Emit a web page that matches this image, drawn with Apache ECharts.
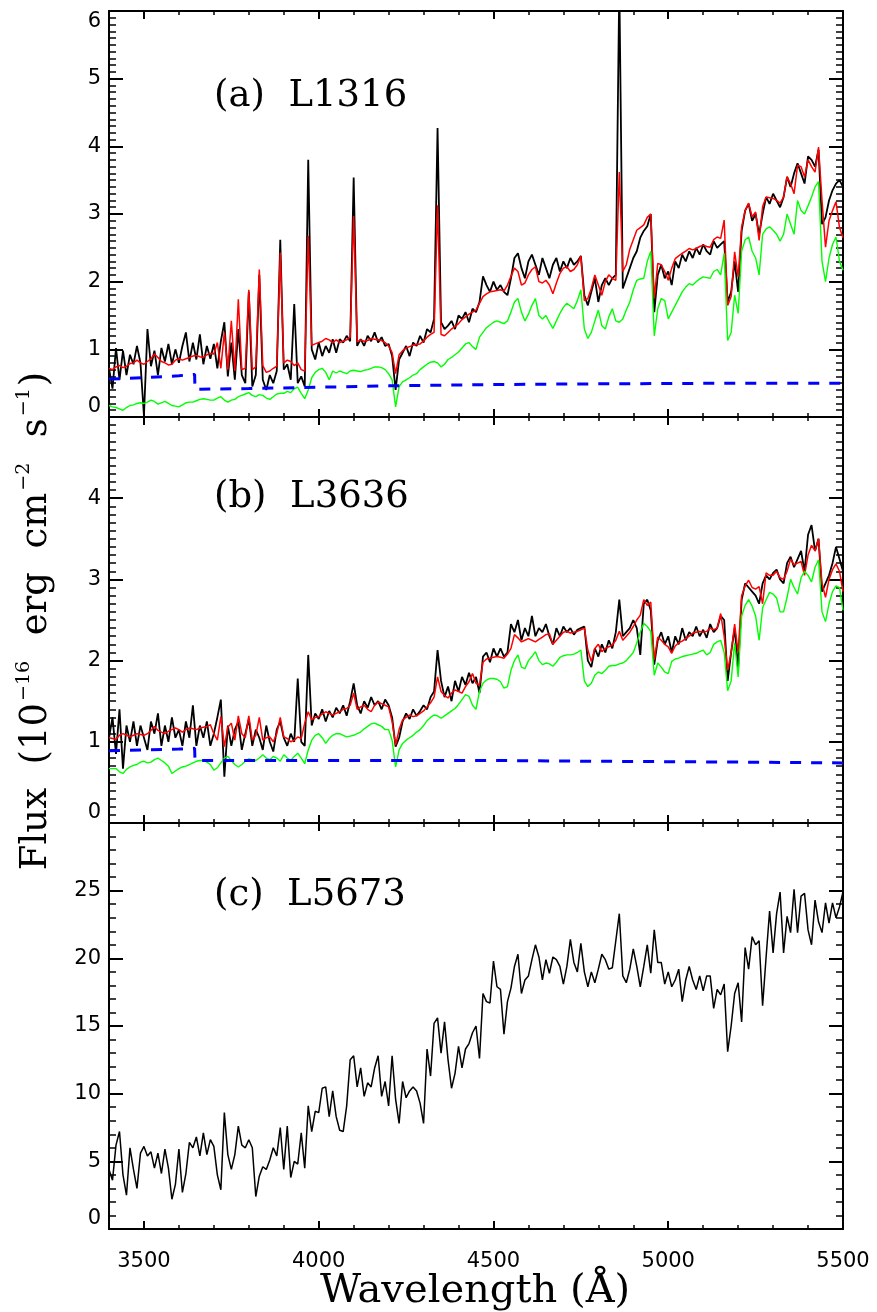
<!DOCTYPE html>
<html><head><meta charset="utf-8">
<script src="https://cdn.jsdelivr.net/npm/echarts/dist/echarts.min.js"></script>
<style>html,body{margin:0;padding:0;background:#fff}#c{width:877px;height:1312px}</style>
</head><body><div id="c"></div>
<script>
// Wavelength grid (Angstrom)
const wave = [
3400,3410,3420,3430,3440,3450,3460,3470,3480,3490,
3500,3510,3520,3530,3540,3550,3560,3570,3580,3590,
3600,3610,3620,3630,3640,3650,3660,3670,3680,3690,
3700,3710,3720,3730,3740,3750,3760,3770,3780,3790,
3800,3810,3820,3830,3840,3850,3860,3870,3880,3890,
3900,3910,3920,3930,3940,3950,3960,3970,3980,3990,
4000,4010,4020,4030,4040,4050,4060,4070,4080,4090,
4100,4110,4120,4130,4140,4150,4160,4170,4180,4190,
4200,4210,4220,4230,4240,4250,4260,4270,4280,4290,
4300,4310,4320,4330,4340,4350,4360,4370,4380,4390,
4400,4410,4420,4430,4440,4450,4460,4470,4480,4490,
4500,4510,4520,4530,4540,4550,4560,4570,4580,4590,
4600,4610,4620,4630,4640,4650,4660,4670,4680,4690,
4700,4710,4720,4730,4740,4750,4760,4770,4780,4790,
4800,4810,4820,4830,4840,4850,4860,4870,4880,4890,
4900,4910,4920,4930,4940,4950,4960,4970,4980,4990,
5000,5010,5020,5030,5040,5050,5060,5070,5080,5090,
5100,5110,5120,5130,5140,5150,5160,5170,5180,5190,
5200,5210,5220,5230,5240,5250,5260,5270,5280,5290,
5300,5310,5320,5330,5340,5350,5360,5370,5380,5390,
5400,5410,5420,5430,5440,5450,5460,5470,5480,5490,
5500];

// (a) L1316
const obsA = [
0.72,0.42,1.02,0.55,0.98,0.62,0.92,0.78,1.05,0.80,
0.02,1.30,0.75,0.98,0.62,1.02,0.82,1.08,0.78,1.00,
0.80,1.05,1.25,0.82,1.10,0.85,1.22,0.78,1.05,0.86,
1.08,0.72,1.12,1.40,0.60,1.10,0.55,1.30,0.62,0.50,
1.85,0.45,0.62,2.10,0.55,0.40,0.62,0.50,0.68,2.62,
0.70,0.78,0.55,1.67,0.50,0.60,0.45,3.80,1.00,0.85,
1.10,0.90,1.05,0.95,1.15,0.95,1.15,1.10,1.20,1.12,
3.54,1.05,1.15,1.05,1.20,1.12,1.25,1.10,1.18,1.05,
1.08,0.90,0.40,0.85,0.95,1.05,0.90,1.10,1.05,1.20,
1.10,1.30,1.25,1.45,4.27,1.40,1.30,1.35,1.42,1.30,
1.50,1.45,1.55,1.40,1.60,1.55,1.70,2.08,1.95,1.85,
2.00,1.88,1.95,1.85,1.80,2.05,2.35,2.42,2.20,2.05,
2.30,2.40,2.25,2.10,2.35,2.20,2.05,2.25,2.35,2.15,
2.30,2.20,2.35,2.25,2.30,2.38,1.80,1.65,1.85,2.05,
1.70,1.95,2.05,1.95,2.05,2.10,6.40,1.90,2.05,2.20,
2.35,2.45,2.65,2.75,2.82,3.00,1.55,2.10,2.25,2.05,
2.15,1.95,2.30,2.20,2.40,2.30,2.45,2.35,2.50,2.40,
2.55,2.45,2.40,2.60,2.50,2.55,2.60,1.70,1.85,2.30,
1.85,2.75,3.05,3.15,2.90,3.00,2.70,3.00,3.25,3.15,
3.30,3.20,3.10,3.25,3.55,3.40,3.60,3.75,3.60,3.45,
3.85,3.80,3.70,3.95,2.85,2.95,3.20,3.35,3.45,3.50,
3.40];
const modA = [
0.72,0.70,0.74,0.76,0.73,0.75,0.79,0.80,0.84,0.80,
0.78,0.82,0.86,0.93,0.88,0.82,0.80,0.77,0.78,0.84,
0.86,0.84,0.86,0.88,0.90,0.91,0.89,0.88,0.92,0.94,
0.93,1.10,0.72,1.25,0.70,1.42,0.68,1.74,0.70,0.72,
1.88,0.70,0.74,2.18,0.76,0.66,0.68,0.72,0.75,2.43,
0.80,0.84,0.82,0.76,0.80,0.70,0.68,2.68,1.06,1.08,
1.10,1.12,1.16,1.14,1.10,1.14,1.10,1.12,1.14,1.18,
2.97,1.11,1.14,1.12,1.13,1.16,1.15,1.14,1.13,1.10,
1.05,0.95,0.64,0.92,0.98,1.02,1.04,1.06,1.07,1.08,
1.12,1.18,1.22,1.25,3.13,1.22,1.20,1.25,1.30,1.34,
1.38,1.44,1.48,1.52,1.55,1.58,1.68,1.78,1.82,1.85,
1.86,1.87,1.88,1.86,1.95,2.08,2.20,2.15,1.95,1.98,
2.10,2.18,2.22,2.00,1.98,2.02,1.95,1.82,1.98,2.12,
2.20,2.22,2.15,2.18,2.25,2.38,1.72,1.75,1.90,2.10,
1.95,1.80,2.00,2.10,2.05,2.02,3.62,2.15,2.25,2.48,
2.62,2.76,2.80,2.84,2.95,3.00,1.75,2.27,2.25,2.15,
2.02,2.20,2.34,2.38,2.42,2.45,2.49,2.47,2.49,2.52,
2.54,2.52,2.51,2.62,2.66,2.64,2.91,1.65,1.78,2.44,
2.07,2.81,3.05,3.16,2.96,3.03,2.61,3.11,3.25,3.24,
3.23,3.20,3.16,3.25,3.55,3.45,3.30,3.72,3.70,3.55,
3.80,3.70,3.62,3.99,3.20,2.51,2.90,3.05,3.18,2.80,
2.65];
const starA = [
0.17,0.15,0.14,0.12,0.10,0.14,0.17,0.18,0.20,0.21,
0.20,0.22,0.25,0.23,0.19,0.21,0.23,0.20,0.17,0.16,
0.15,0.18,0.21,0.22,0.22,0.24,0.26,0.27,0.26,0.25,
0.25,0.28,0.30,0.25,0.22,0.25,0.26,0.30,0.32,0.34,
0.36,0.32,0.30,0.33,0.32,0.28,0.26,0.30,0.34,0.35,
0.35,0.38,0.36,0.42,0.44,0.35,0.27,0.40,0.58,0.66,
0.70,0.72,0.66,0.55,0.68,0.65,0.68,0.66,0.64,0.68,
0.69,0.68,0.67,0.69,0.70,0.72,0.74,0.74,0.73,0.70,
0.64,0.55,0.15,0.45,0.52,0.55,0.58,0.62,0.64,0.70,
0.74,0.78,0.81,0.82,0.80,0.74,0.78,0.85,0.88,0.92,
0.96,1.02,1.08,1.10,1.04,1.00,1.18,1.25,1.32,1.36,
1.40,1.42,1.40,1.38,1.42,1.55,1.70,1.75,1.55,1.42,
1.52,1.65,1.75,1.50,1.45,1.50,1.40,1.31,1.42,1.53,
1.62,1.68,1.64,1.60,1.72,1.88,1.30,1.16,1.25,1.42,
1.58,1.35,1.30,1.48,1.60,1.42,1.40,1.45,1.58,1.70,
1.88,2.02,2.04,2.05,2.30,2.45,1.20,1.60,1.75,1.72,
1.45,1.55,1.65,1.75,1.85,1.92,1.97,1.95,2.00,2.04,
2.07,2.06,2.05,2.15,2.18,2.10,2.42,1.13,1.25,1.80,
1.53,2.45,2.62,2.66,2.45,2.35,2.10,2.70,2.78,2.81,
2.76,2.70,2.60,2.70,3.00,2.85,2.70,3.20,3.05,3.00,
3.12,3.25,3.40,3.48,2.30,2.00,2.35,2.55,2.66,2.30,
2.17];
const nebWave = [3400,3500,3600,3645,3646,3800,4000,4200,4500,4800,5200,5500];
const nebA = [0.56,0.58,0.61,0.63,0.41,0.42,0.44,0.46,0.48,0.49,0.50,0.50];

// (b) L3636
const obsB = [
1.05,1.30,0.85,1.40,0.67,1.20,1.00,1.25,0.95,1.20,
1.05,0.90,1.25,1.10,1.35,0.95,1.20,1.00,1.30,1.05,
1.15,0.95,1.25,1.05,1.45,0.95,1.20,1.05,1.25,0.95,
1.10,1.30,1.52,0.57,1.20,0.95,1.15,1.25,0.90,1.10,
1.28,0.95,1.15,1.05,0.90,1.20,1.00,0.88,1.15,1.25,
1.05,0.95,1.10,1.00,1.78,1.00,0.95,2.07,1.20,1.35,
1.28,1.40,1.25,1.38,1.30,1.42,1.35,1.45,1.32,1.50,
1.72,1.45,1.35,1.50,1.42,1.55,1.45,1.50,1.40,1.52,
1.45,1.30,0.94,1.05,1.25,1.35,1.28,1.40,1.32,1.38,
1.45,1.40,1.55,1.62,2.13,1.75,1.55,1.68,1.50,1.75,
1.62,1.80,1.70,1.85,1.72,1.80,1.60,2.05,2.10,1.98,
2.15,2.05,2.15,2.05,2.10,2.45,2.35,2.50,2.25,2.40,
2.30,2.55,2.30,2.40,2.35,2.45,2.30,2.20,2.40,2.30,
2.42,2.35,2.40,2.32,2.38,2.40,2.42,2.00,1.92,2.15,
2.05,2.20,2.10,2.25,2.15,2.35,2.75,2.30,2.35,2.40,
2.50,2.40,2.07,2.70,2.75,2.62,1.95,2.25,2.35,2.20,
2.30,2.10,2.30,2.20,2.40,2.25,2.35,2.30,2.42,2.30,
2.38,2.28,2.45,2.35,2.40,2.55,2.50,1.75,2.10,2.40,
1.90,2.75,2.95,2.90,2.85,2.80,2.70,2.95,3.05,3.00,
3.08,3.12,3.00,2.95,3.20,3.28,3.15,3.25,3.35,3.10,
3.55,3.67,3.35,3.50,2.85,2.95,3.05,3.20,3.40,3.25,
3.10];
const modB = [
1.05,1.04,1.03,1.08,1.10,1.08,1.06,1.08,1.10,1.09,
1.08,1.10,1.14,1.19,1.14,1.12,1.10,1.13,1.15,1.17,
1.15,1.12,1.15,1.17,1.16,1.15,1.17,1.18,1.19,1.21,
1.10,1.02,1.31,0.94,1.18,1.23,1.02,1.32,1.10,1.05,
1.32,1.02,1.08,1.30,1.02,1.05,1.06,1.00,1.10,1.30,
1.06,1.04,1.00,1.02,1.06,1.04,1.23,1.37,1.27,1.30,
1.31,1.34,1.37,1.35,1.33,1.35,1.37,1.40,1.41,1.45,
1.60,1.40,1.43,1.45,1.40,1.37,1.45,1.49,1.47,1.45,
1.43,1.25,0.96,1.15,1.27,1.30,1.33,1.31,1.32,1.35,
1.38,1.43,1.48,1.55,1.80,1.62,1.57,1.54,1.60,1.64,
1.62,1.60,1.68,1.74,1.84,1.72,1.70,1.98,2.02,2.03,
2.04,2.05,2.04,2.03,2.08,2.15,2.32,2.28,2.23,2.25,
2.27,2.25,2.23,2.26,2.29,2.32,2.33,2.20,2.25,2.30,
2.35,2.36,2.34,2.35,2.36,2.38,2.40,2.13,1.99,2.15,
2.20,2.11,2.15,2.17,2.19,2.25,2.36,2.25,2.30,2.35,
2.42,2.50,2.56,2.75,2.68,2.72,2.01,2.29,2.25,2.20,
2.17,2.09,2.18,2.22,2.24,2.27,2.30,2.34,2.35,2.36,
2.35,2.36,2.40,2.38,2.40,2.58,2.30,1.88,2.10,2.45,
2.10,2.80,2.92,2.99,2.90,2.88,2.91,2.70,3.08,3.05,
3.05,3.10,3.02,3.00,3.10,3.25,3.18,3.20,3.22,3.05,
3.30,3.42,3.35,3.50,2.95,2.78,3.00,3.12,3.19,3.10,
2.85];
const starB = [
0.67,0.67,0.67,0.63,0.61,0.66,0.69,0.71,0.72,0.75,
0.76,0.74,0.75,0.78,0.80,0.77,0.74,0.70,0.61,0.64,
0.67,0.69,0.70,0.72,0.74,0.76,0.77,0.77,0.75,0.72,
0.65,0.68,0.74,0.80,0.82,0.77,0.72,0.69,0.72,0.76,
0.79,0.78,0.77,0.80,0.84,0.80,0.78,0.82,0.80,0.76,
0.84,0.80,0.77,0.82,0.86,0.80,0.73,0.90,1.02,1.08,
1.10,1.05,0.98,1.04,1.08,1.10,1.10,1.08,1.06,1.07,
1.08,1.10,1.12,1.16,1.19,1.22,1.23,1.21,1.19,1.15,
1.15,1.02,0.69,0.90,0.98,1.02,1.05,1.08,1.12,1.15,
1.20,1.26,1.30,1.33,1.32,1.29,1.32,1.35,1.38,1.41,
1.46,1.52,1.58,1.56,1.45,1.40,1.62,1.72,1.76,1.78,
1.78,1.77,1.74,1.66,1.68,1.88,2.00,2.07,1.92,1.90,
2.00,2.05,2.11,2.00,1.95,1.97,1.96,1.93,1.98,2.04,
2.06,2.07,2.07,2.08,2.10,2.13,1.75,1.68,1.72,1.82,
1.86,1.84,1.88,1.93,1.94,1.94,1.96,1.97,2.00,2.05,
2.10,2.22,2.35,2.46,2.42,2.36,1.82,1.97,1.92,1.86,
1.84,1.99,2.02,2.03,2.05,2.06,2.07,2.08,2.09,2.11,
2.13,2.07,2.10,2.20,2.23,2.25,2.10,1.63,1.75,2.22,
1.80,2.55,2.68,2.75,2.67,2.55,2.25,2.65,2.75,2.84,
2.82,2.77,2.60,2.60,2.78,3.00,2.90,2.82,3.02,3.10,
3.05,2.97,3.15,3.24,2.60,2.48,2.70,2.85,2.92,2.90,
2.62];
const nebB = [0.89,0.90,0.91,0.92,0.77,0.77,0.77,0.77,0.77,0.76,0.75,0.74];

// (c) L5673
const obsC = [
4.4,3.6,6.2,7.2,4.0,2.5,6.0,4.4,3.0,5.6,
6.1,5.4,5.7,4.5,5.6,4.1,5.9,4.5,2.2,3.3,
5.9,2.7,4.1,6.4,6.0,6.8,5.4,7.1,5.5,6.6,
6.1,4.0,2.9,8.6,5.5,4.4,5.5,7.6,6.2,6.0,
6.6,6.0,2.4,3.9,4.6,4.4,5.1,6.0,5.4,7.5,
4.4,7.6,3.8,5.0,4.8,7.1,4.5,9.1,7.2,8.7,
8.6,10.4,10.5,8.3,10.2,8.3,7.3,7.2,9.1,12.5,
12.8,10.5,11.9,9.8,10.8,10.5,11.9,12.8,9.8,10.9,
9.1,12.8,9.6,7.8,10.9,9.7,10.2,10.5,10.2,9.3,
7.8,13.3,11.3,15.2,15.6,13.0,15.3,12.5,10.4,11.5,
13.5,11.9,13.3,13.7,14.5,15.0,12.6,17.4,16.8,16.7,
19.8,17.9,17.7,14.4,16.8,17.8,19.4,20.3,17.4,18.4,
18.7,19.9,21.0,20.1,18.4,19.9,18.9,20.1,19.9,19.4,
18.1,19.4,21.4,19.7,19.0,21.1,19.0,17.9,19.0,18.2,
19.2,20.3,19.9,19.2,19.3,21.3,23.3,18.7,18.2,19.2,
20.7,19.4,17.9,19.4,21.0,18.9,22.1,19.7,19.7,18.1,
19.0,17.9,18.4,19.2,16.8,18.4,19.4,18.4,17.7,18.7,
17.6,18.7,18.7,16.3,17.7,17.3,18.1,13.1,15.0,17.4,
18.2,15.3,20.8,19.2,21.6,21.0,21.3,16.5,20.1,23.5,
20.4,23.3,24.9,20.4,23.1,21.9,25.1,21.9,24.6,24.8,
22.1,21.0,24.3,22.7,21.9,24.1,22.6,24.1,23.0,23.8,
24.9];

const xMajor = [3500,4000,4500,5000,5500];
const panelNames = ['(a)  L1316','(b)  L3636','(c)  L5673'];
const yRanges = [{min:0,max:6,interval:1,minor:10,hideMax:false},
                 {min:0,max:5,interval:1,minor:10,hideMax:true},
                 {min:0,max:30,interval:5,minor:5,hideMax:true}];

function pairs(xs, ys){ return xs.map(function(x,i){ return [x, ys[i]]; }); }

const gridTops = [11,417,823];
const grid = gridTops.map(function(t){ return {left:109,right:34,top:t,height:406}; });
const xAxis = [], yAxis = [];
const blk = '#000';
gridTops.forEach(function(t,i){
  ['bottom','top'].forEach(function(pos){
    xAxis.push({gridIndex:i,type:'value',min:3400,max:5500,position:pos,
      axisLine:{show:true,onZero:false,lineStyle:{color:blk,width:2}},
      axisTick:{show:true,inside:true,length:8,customValues:xMajor,lineStyle:{color:blk,width:2}},
      axisLabel:{show:(i===2&&pos==='bottom'),customValues:xMajor,color:blk,fontFamily:'DejaVu Sans',fontSize:21,margin:22,
        formatter:function(v){return String(v);}},
      splitLine:{show:false}});
    xAxis.push({gridIndex:i,type:'value',min:3400,max:5500,interval:100,position:pos,
      axisLine:{show:false,onZero:false},
      axisTick:{show:true,inside:true,length:4,lineStyle:{color:blk,width:1.5}},
      axisLabel:{show:false},splitLine:{show:false}});
  });
  const r = yRanges[i];
  ['left','right'].forEach(function(pos){
    yAxis.push({gridIndex:i,type:'value',min:r.min,max:r.max,interval:r.interval,position:pos,
      axisLine:{show:true,onZero:false,lineStyle:{color:blk,width:2}},
      axisTick:{show:true,inside:true,length:14,lineStyle:{color:blk,width:2}},
      minorTick:{show:true,splitNumber:r.minor,length:7,lineStyle:{color:blk,width:1.5}},
      axisLabel:{show:pos==='left',showMaxLabel:!r.hideMax,color:blk,fontFamily:'DejaVu Sans',fontSize:21,margin:8,
        verticalAlignMinLabel:'bottom',verticalAlignMaxLabel:'top'},
      splitLine:{show:false},minorSplitLine:{show:false}});
  });
});

function line(i, xs, ys, color, width, dash){
  return {type:'line',xAxisIndex:4*i,yAxisIndex:2*i,data:pairs(xs,ys),showSymbol:false,symbol:'none',
    silent:true,clip:true,animation:false,
    lineStyle:{color:color,width:width,type:dash?[11,10]:'solid'}};
}
const series = [
  line(0,wave,obsA,'#000000',1.8), line(0,wave,modA,'#ff0000',1.5), line(0,wave,starA,'#00ff00',1.4), line(0,nebWave,nebA,'#0000ff',3,true),
  line(1,wave,obsB,'#000000',1.8), line(1,wave,modB,'#ff0000',1.5), line(1,wave,starB,'#00ff00',1.4), line(1,nebWave,nebB,'#0000ff',3,true),
  line(2,wave,obsC,'#000000',1.5)
];

const titleY = [96,497,895];
const graphic = panelNames.map(function(n,i){
  return {type:'text',x:214,y:titleY[i],style:{text:n,font:'37px "DejaVu Serif"',fill:'#000',align:'left',verticalAlign:'middle'}};
});
graphic.push({type:'text',x:475,y:1292,style:{text:'Wavelength (Å)',font:'40px "DejaVu Serif"',fill:'#000',align:'center',verticalAlign:'middle'}});
graphic.push({type:'text',x:36,y:621,rotation:Math.PI/2,style:{
  text:'{m|Flux  (10}{s|−16}{m|  erg  cm}{s|−2}{m|  s}{s|−1}{m|)}',
  align:'center',verticalAlign:'middle',
  rich:{m:{fontFamily:'DejaVu Serif',fontSize:37,fill:'#000'},
        s:{fontFamily:'DejaVu Serif',fontSize:19,fill:'#000',padding:[0,2,24,2]}}}});

const chart = echarts.init(document.getElementById('c'), null, {renderer:'canvas'});
chart.setOption({animation:false,backgroundColor:'#fff',grid:grid,xAxis:xAxis,yAxis:yAxis,series:series,graphic:graphic});
</script></body></html>
